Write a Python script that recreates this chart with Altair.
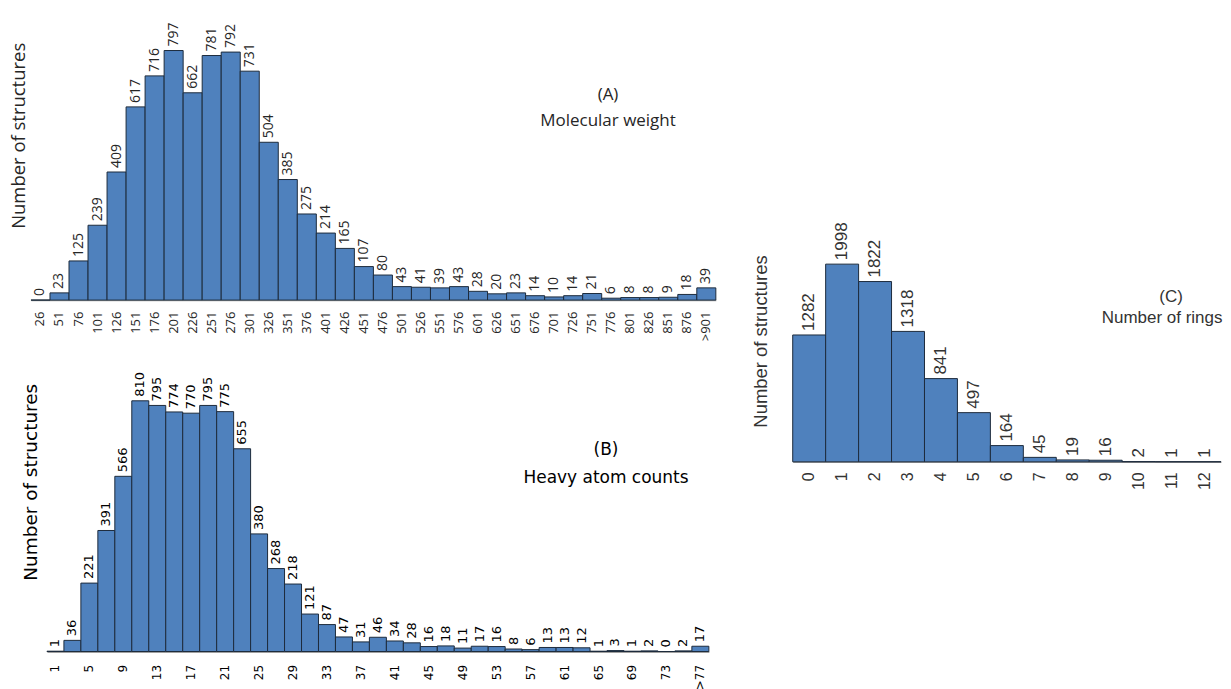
import altair as alt
import pandas as pd

# ---------------- data ----------------
mw_bins = ["26", "51", "76", "101", "126", "151", "176", "201", "226", "251", "276", "301",
           "326", "351", "376", "401", "426", "451", "476", "501", "526", "551", "576", "601",
           "626", "651", "676", "701", "726", "751", "776", "801", "826", "851", "876", ">901"]
mw_counts = [0, 23, 125, 239, 409, 617, 716, 797, 662, 781, 792, 731,
             504, 385, 275, 214, 165, 107, 80, 43, 41, 39, 43, 28,
             20, 23, 14, 10, 14, 21, 6, 8, 8, 9, 18, 39]

ha_bins = ["1", "3", "5", "7", "9", "11", "13", "15", "17", "19", "21", "23", "25",
           "27", "29", "31", "33", "35", "37", "39", "41", "43", "45", "47", "49", "51",
           "53", "55", "57", "59", "61", "63", "65", "67", "69", "71", "73", "75", ">77"]
ha_counts = [1, 36, 221, 391, 566, 810, 795, 774, 770, 795, 775, 655, 380,
             268, 218, 121, 87, 47, 31, 46, 34, 28, 16, 18, 11, 17,
             16, 8, 6, 13, 13, 12, 1, 3, 1, 2, 0, 2, 17]
ha_tick_labels = ["1", "5", "9", "13", "17", "21", "25", "29", "33", "37", "41", "45",
                  "49", "53", "57", "61", "65", "69", "73", ">77"]

ring_bins = ["0", "1", "2", "3", "4", "5", "6", "7", "8", "9", "10", "11", "12"]
ring_counts = [1282, 1998, 1822, 1318, 841, 497, 164, 45, 19, 16, 2, 1, 1]

FILL = "#4f81bd"
STROKE = "#1d2b3c"


def hist(bins, counts, tick_values, width, height, ymax, font, bar_label_size,
         tick_size, text_color, title_size, title_pad, title_y, label_pad,
         domain_color, annotations, ann_size):
    df = pd.DataFrame({"bin": bins, "count": counts})
    base = alt.Chart(df)
    x = alt.X("bin:N", sort=bins, title=None,
              scale=alt.Scale(paddingInner=0, paddingOuter=0),
              axis=alt.Axis(values=tick_values, labelAngle=270, labelFont=font,
                            labelFontSize=tick_size, labelColor=text_color,
                            labelPadding=label_pad, ticks=False,
                            domainColor=domain_color, domainWidth=1.5, grid=False))
    y = alt.Y("count:Q", scale=alt.Scale(domain=[0, ymax], nice=False),
              axis=alt.Axis(labels=False, ticks=False, domain=False, grid=False,
                            title="Number of structures", titleFont=font,
                            titleFontSize=title_size, titleFontWeight="normal",
                            titlePadding=title_pad, titleY=title_y,
                            titleColor=text_color))
    bars = base.mark_bar(fill=FILL, stroke=STROKE, strokeWidth=1).encode(x=x, y=y)
    labels = base.mark_text(angle=270, align="left", baseline="middle", dx=4,
                            font=font, fontSize=bar_label_size,
                            color=text_color).encode(x=x, y=y, text="count:Q")
    layers = [bars, labels]
    for text, ax, ay in annotations:
        layers.append(
            alt.Chart(pd.DataFrame({"t": [text]}))
            .mark_text(font=font, fontSize=ann_size, color=text_color,
                       align="center", baseline="middle")
            .encode(x=alt.value(ax), y=alt.value(ay), text="t:N")
        )
    return alt.layer(*layers).properties(width=width, height=height)


def spacer(w, h):
    return (alt.Chart(pd.DataFrame({"s": [0]}))
            .mark_point(opacity=0, size=1)
            .encode(x=alt.X("s:Q", axis=None, scale=alt.Scale(domain=[-1, 1])),
                    y=alt.Y("s:Q", axis=None, scale=alt.Scale(domain=[-1, 1])))
            .properties(width=w, height=h))


panel_a = hist(mw_bins, mw_counts, mw_bins, 686, 292, 931, "Open Sans", 14, 13,
               "#262626", 18.5, 2, 127, 11, "#a6a6a6",
               [("(A)", 578, 87), ("Molecular weight", 578, 113)], 17)

panel_b = hist(ha_bins, ha_counts, ha_tick_labels, 663, 288, 929, "DejaVu Sans", 13, 12,
               "#000000", 18.5, 6.5, 118, 13, "#808080",
               [("(B)", 560, 86), ("Heavy atom counts", 560, 114)], 17)

panel_c = hist(ring_bins, ring_counts, ring_bins, 429, 233, 2351, "Liberation Sans", 17, 16,
               "#333333", 18.5, 22, 112, 10, "#a0a0a0",
               [("(C)", 379, 68), ("Number of rings", 370, 89)], 17)

row_a = alt.concat(spacer(2, 1), panel_a, columns=2, spacing=0, align="none")
row_b = alt.concat(spacer(13, 1), panel_b, columns=2, spacing=0, align="none")
left_col = alt.concat(row_a, row_b, columns=1, spacing=23, align="none")
right_col = alt.concat(spacer(10, 214), panel_c, columns=1, spacing=0, align="none")

chart = (alt.concat(left_col, right_col, columns=2, spacing=35, align="none")
         .properties(padding=0)
         .configure_view(stroke=None))

chart.save("out.html", embed_options={"renderer": "svg", "actions": False})
